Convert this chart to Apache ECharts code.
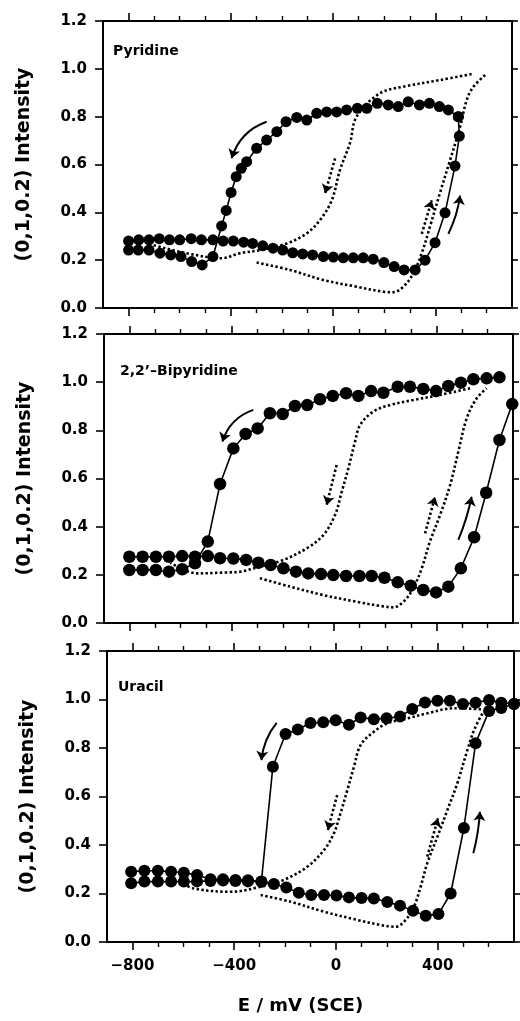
<!DOCTYPE html>
<html>
<head>
<meta charset="utf-8">
<script src="https://cdn.jsdelivr.net/npm/echarts@6/dist/echarts.min.js"></script>
<style>
html,body{margin:0;padding:0;background:#fff;}
#chart{width:520px;height:1021px;}
</style>
</head>
<body>
<div id="chart"></div>
<script>
// ---------- tick labels ----------
const xMajorTicks = [-800, -400, 0, 400];
const xMinorTicks = [-700, -600, -500, -300, -200, -100, 100, 200, 300, 500, 600];
const yTicks = [0, 0.2, 0.4, 0.6, 0.8, 1.0, 1.2];
const panelNames = ['Pyridine', '2,2\u2019\u2013Bipyridine', 'Uracil'];

// ---------- Pyridine ----------
const pyrForward = [[-800,0.28],[-760,0.285],[-720,0.285],[-680,0.29],[-640,0.285],[-600,0.285],[-555,0.29],[-515,0.285],[-470,0.285],[-430,0.28],[-390,0.28],[-350,0.275],[-315,0.27],[-275,0.26],[-235,0.25],[-197,0.242],[-158,0.231],[-119,0.226],[-80,0.222],[-38,0.215],[1,0.213],[40,0.21],[79,0.21],[118,0.21],[157,0.204],[199,0.19],[239,0.173],[278,0.159],[321,0.159],[360,0.2],[399,0.273],[438,0.398],[477,0.594],[494,0.719],[490,0.80]];
const pyrReverse = [[490,0.80],[451,0.828],[416,0.842],[377,0.856],[338,0.849],[294,0.862],[255,0.842],[216,0.849],[173,0.856],[132,0.835],[95,0.835],[53,0.828],[14,0.82],[-25,0.82],[-64,0.814],[-103,0.786],[-142,0.797],[-184,0.779],[-220,0.737],[-260,0.702],[-299,0.668],[-338,0.612],[-359,0.584],[-379,0.549],[-399,0.483],[-418,0.408],[-436,0.343],[-470,0.215],[-512,0.18],[-553,0.194],[-595,0.215],[-635,0.222],[-677,0.229],[-720,0.242],[-762,0.242],[-800,0.242]];
const pyrDotForward = [[-299,0.19],[-168,0.159],[-38,0.117],[92,0.089],[197,0.068],[236,0.066],[275,0.089],[314,0.145],[347,0.229],[379,0.34],[418,0.48],[458,0.619],[497,0.758],[523,0.87],[549,0.925],[595,0.974]];
const pyrDotReverse = [[542,0.978],[418,0.953],[288,0.928],[184,0.898],[92,0.80],[66,0.689],[27,0.577],[-5,0.45],[-51,0.368],[-103,0.312],[-181,0.27],[-286,0.242],[-364,0.229],[-436,0.208],[-573,0.229],[-703,0.263]];
const pyrArrowDown = [[-260,0.779],[-397,0.626]];
const pyrArrowUp = [[451,0.31],[497,0.47]];
const pyrDotArrowDown = [[8,0.626],[-31,0.48]];
const pyrDotArrowUp = [[347,0.31],[386,0.45]];

// ---------- 2,2'-Bipyridine ----------
const bipyForward = [[-801,0.275],[-749,0.275],[-697,0.275],[-646,0.275],[-594,0.278],[-544,0.275],[-494,0.278],[-446,0.269],[-394,0.268],[-344,0.262],[-296,0.25],[-248,0.241],[-198,0.227],[-149,0.213],[-101,0.206],[-51,0.203],[-3,0.199],[47,0.195],[99,0.195],[147,0.195],[197,0.188],[249,0.169],[300,0.155],[349,0.137],[399,0.127],[447,0.151],[496,0.227],[548,0.356],[595,0.541],[647,0.76],[697,0.909]];
const bipyReverse = [[647,1.02],[597,1.016],[545,1.012],[496,0.998],[447,0.984],[399,0.963],[349,0.972],[297,0.981],[249,0.981],[193,0.956],[145,0.963],[95,0.943],[47,0.954],[-5,0.943],[-55,0.929],[-105,0.905],[-153,0.901],[-201,0.868],[-251,0.871],[-299,0.808],[-346,0.785],[-394,0.725],[-446,0.577],[-494,0.338],[-544,0.248],[-594,0.223],[-646,0.213],[-697,0.22],[-749,0.22],[-801,0.22]];
const bipyDotForward = [[-290,0.186],[-172,0.151],[-42,0.116],[89,0.088],[180,0.071],[232,0.065],[271,0.088],[310,0.144],[343,0.227],[375,0.338],[415,0.449],[454,0.573],[486,0.711],[519,0.85],[558,0.933],[597,0.975]];
const bipyDotReverse = [[532,0.975],[415,0.947],[310,0.926],[219,0.905],[154,0.878],[102,0.822],[82,0.753],[56,0.642],[30,0.545],[4,0.449],[-42,0.365],[-107,0.31],[-198,0.262],[-290,0.234],[-368,0.213],[-420,0.21],[-537,0.206],[-640,0.25]];
const bipyArrowDown = [[-316,0.885],[-437,0.753]];
const bipyArrowUp = [[486,0.345],[538,0.524]];
const bipyDotArrowDown = [[10,0.656],[-29,0.49]];
const bipyDotArrowUp = [[356,0.372],[395,0.524]];

// ---------- Uracil ----------
const uraForward = [[-805,0.29],[-753,0.294],[-700,0.294],[-648,0.29],[-598,0.286],[-546,0.276],[-493,0.259],[-444,0.259],[-395,0.256],[-346,0.255],[-293,0.248],[-244,0.239],[-195,0.225],[-146,0.203],[-97,0.194],[-47,0.194],[2,0.192],[51,0.184],[101,0.181],[149,0.179],[202,0.165],[252,0.15],[303,0.129],[353,0.108],[403,0.115],[451,0.2],[503,0.47],[549,0.82],[602,0.953],[650,0.965],[700,0.981]];
const uraReverse = [[700,0.981],[650,0.987],[602,0.998],[549,0.987],[499,0.981],[448,0.995],[399,0.995],[350,0.988],[300,0.961],[252,0.93],[199,0.923],[149,0.919],[97,0.926],[51,0.896],[-1,0.914],[-50,0.906],[-100,0.903],[-150,0.876],[-198,0.858],[-248,0.723],[-293,0.25],[-346,0.25],[-395,0.252],[-444,0.254],[-493,0.252],[-546,0.25],[-598,0.249],[-648,0.249],[-700,0.249],[-753,0.249],[-805,0.242]];
const uraDotForward = [[-296,0.194],[-178,0.166],[-47,0.125],[84,0.091],[176,0.07],[235,0.063],[274,0.091],[307,0.146],[333,0.228],[359,0.325],[399,0.434],[438,0.544],[477,0.654],[517,0.792],[543,0.874],[576,0.943]];
const uraDotReverse = [[570,0.96],[464,0.964],[359,0.943],[281,0.922],[202,0.902],[149,0.867],[97,0.812],[71,0.723],[45,0.627],[18,0.531],[-8,0.448],[-47,0.379],[-113,0.31],[-205,0.256],[-296,0.228],[-414,0.207],[-559,0.221],[-620,0.25]];
const uraArrowDown = [[-233,0.904],[-293,0.75]];
const uraArrowUp = [[540,0.366],[566,0.537]];
const uraDotArrowDown = [[5,0.606],[-32,0.462]];
const uraDotArrowUp = [[359,0.352],[401,0.51]];

// ---------- layout ----------
const FONT = 'DejaVu Sans';
const grids = [
  {left: 103, top: 21, width: 409, height: 287},
  {left: 104, top: 334, width: 409, height: 289},
  {left: 107, top: 651, width: 407, height: 291}
];
const titlePos = [[113, 44], [120, 364], [118, 680]];
const symbolSizes = [11, 12.5, 12];

const panels = [
  {fwd: pyrForward, rev: pyrReverse, dFwd: pyrDotForward, dRev: pyrDotReverse, aDown: pyrArrowDown, aUp: pyrArrowUp, dDown: pyrDotArrowDown, dUp: pyrDotArrowUp, curve: [-0.25, -0.08]},
  {fwd: bipyForward, rev: bipyReverse, dFwd: bipyDotForward, dRev: bipyDotReverse, aDown: bipyArrowDown, aUp: bipyArrowUp, dDown: bipyDotArrowDown, dUp: bipyDotArrowUp, curve: [-0.25, -0.05]},
  {fwd: uraForward, rev: uraReverse, dFwd: uraDotForward, dRev: uraDotReverse, aDown: uraArrowDown, aUp: uraArrowUp, dDown: uraDotArrowDown, dUp: uraDotArrowUp, curve: [-0.15, -0.05]}
];

const fmtX = v => (v < 0 ? '\u2212' + Math.abs(v) : String(v));
const xAxis = [], yAxis = [], series = [], title = [];

grids.forEach((g, i) => {
  const last = i === grids.length - 1;
  const base = {type: 'value', gridIndex: i, min: -900, max: 700, interval: 100, splitLine: {show: false}};
  ['bottom', 'top'].forEach(pos => {
    xAxis.push(Object.assign({}, base, {
      position: pos,
      axisLine: {show: true, onZero: false, lineStyle: {color: '#000', width: 2}},
      axisTick: {show: true, inside: false, length: 8, customValues: xMajorTicks, lineStyle: {color: '#000', width: 1.6}},
      axisLabel: {show: last && pos === 'bottom', customValues: xMajorTicks, formatter: fmtX, margin: 17,
        color: '#000', fontSize: 15, fontWeight: 'bold', fontFamily: FONT},
      name: (last && pos === 'bottom') ? 'E / mV (SCE)' : '',
      nameLocation: 'middle', nameGap: 55,
      nameTextStyle: {color: '#000', fontSize: 18, fontWeight: 'bold', fontFamily: FONT, padding: [0, 20, 0, 0]}
    }));
    xAxis.push(Object.assign({}, base, {
      position: pos,
      axisLine: {show: false, onZero: false},
      axisTick: {show: true, inside: false, length: 5, customValues: xMinorTicks, lineStyle: {color: '#000', width: 1.4}},
      axisLabel: {show: false}
    }));
  });
  yAxis.push({
    type: 'value', gridIndex: i, position: 'left', min: 0, max: 1.2, interval: 0.2,
    axisLine: {show: true, onZero: false, lineStyle: {color: '#000', width: 2}},
    axisTick: {show: true, inside: false, length: 8, lineStyle: {color: '#000', width: 1.6}},
    axisLabel: {show: true, formatter: v => v.toFixed(1), margin: 16, color: '#000', fontSize: 15, fontWeight: 'bold', fontFamily: FONT},
    splitLine: {show: false},
    name: '(0,1,0.2) Intensity', nameLocation: 'middle', nameRotate: 90, nameGap: 69,
    nameTextStyle: {color: '#000', fontSize: 19, fontWeight: 'bold', fontFamily: FONT}
  });
  yAxis.push({
    type: 'value', gridIndex: i, position: 'right', min: 0, max: 1.2, interval: 0.2,
    axisLine: {show: true, onZero: false, lineStyle: {color: '#000', width: 2}},
    axisTick: {show: true, inside: false, length: 6, lineStyle: {color: '#000', width: 1.6}},
    axisLabel: {show: false}, splitLine: {show: false}
  });
  title.push({text: panelNames[i], left: titlePos[i][0], top: titlePos[i][1], padding: 0,
    textStyle: {color: '#000', fontSize: 14, fontWeight: 'bold', fontFamily: FONT}});

  const xi = i * 4, yi = i * 2, p = panels[i];
  const dotted = {color: '#000', width: 2.6, type: [2.4, 2.4], cap: 'butt'};
  [p.dFwd, p.dRev].forEach(d => series.push({
    type: 'line', xAxisIndex: xi, yAxisIndex: yi, data: d, smooth: 0.35, showSymbol: false, symbol: 'none',
    lineStyle: dotted, z: 2, silent: true
  }));
  [p.fwd, p.rev].forEach(d => series.push({
    type: 'line', xAxisIndex: xi, yAxisIndex: yi, data: d, symbol: 'circle', symbolSize: symbolSizes[i],
    itemStyle: {color: '#000'}, lineStyle: {color: '#000', width: 1.6}, z: 3, silent: true
  }));
  series.push({
    type: 'lines', coordinateSystem: 'cartesian2d', xAxisIndex: xi, yAxisIndex: yi, silent: true, z: 4,
    symbol: ['none', 'arrow'], symbolSize: 9,
    lineStyle: {color: '#000', width: 2, curveness: p.curve[0], opacity: 1},
    data: [{coords: p.aDown}]
  });
  series.push({
    type: 'lines', coordinateSystem: 'cartesian2d', xAxisIndex: xi, yAxisIndex: yi, silent: true, z: 4,
    symbol: ['none', 'arrow'], symbolSize: 9,
    lineStyle: {color: '#000', width: 2, curveness: p.curve[1], opacity: 1},
    data: [{coords: p.aUp}]
  });
  series.push({
    type: 'lines', coordinateSystem: 'cartesian2d', xAxisIndex: xi, yAxisIndex: yi, silent: true, z: 4,
    symbol: ['none', 'arrow'], symbolSize: 9,
    lineStyle: {color: '#000', width: 2.6, type: [2.4, 2.4], curveness: 0, opacity: 1},
    data: [{coords: p.dDown}, {coords: p.dUp}]
  });
});

const chart = echarts.init(document.getElementById('chart'), null, {renderer: 'canvas'});
chart.setOption({
  animation: false,
  backgroundColor: '#fff',
  title: title,
  grid: grids,
  xAxis: xAxis,
  yAxis: yAxis,
  series: series
});
</script>
</body>
</html>
